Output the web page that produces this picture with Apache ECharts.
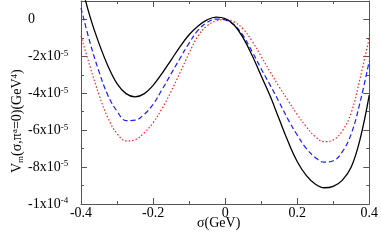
<!DOCTYPE html>
<html>
<head>
<meta charset="utf-8">
<script src="https://cdn.jsdelivr.net/npm/echarts@6/dist/echarts.min.js"></script>
<style>html,body{margin:0;padding:0;background:#fff}#c{width:381px;height:242px}</style>
</head>
<body>
<div id="c"></div>
<script>
// sigma grid (GeV) and potential values in units of 1e-6 GeV^4
var sigma  = [-0.400,-0.375,-0.350,-0.325,-0.300,-0.275,-0.250,-0.225,-0.200,-0.175,-0.150,-0.125,-0.100,-0.075,-0.050,-0.025,0.000,
              0.025,0.050,0.075,0.100,0.125,0.150,0.175,0.200,0.225,0.250,0.275,0.300,0.325,0.350,0.375,0.400];
var blackV = [20,1.5,-13,-25.3,-34.8,-40.2,-41.9,-40.3,-35.7,-29.2,-22,-14.7,-8.3,-3.5,-0.2,1.3,0.5,
              -3,-10,-19.5,-30.5,-41.5,-54,-66.3,-77,-84.5,-89.2,-91.2,-90.4,-87.2,-80,-64.5,-41];
var blueV  = [6.3,-12.5,-28.3,-41.3,-49.7,-54.8,-54.6,-51.5,-46,-38,-29.5,-21,-12.8,-5.8,-1.6,0.2,-0.3,
              -3,-8.8,-17.4,-26.7,-35.6,-44.8,-54.3,-62.6,-69.8,-74.8,-77.3,-76.6,-71.8,-62,-44.5,-22.5];
var redV   = [-9,-25.5,-40.8,-53.5,-61.8,-65.8,-65.2,-61.5,-56,-48.3,-39,-28.8,-18.2,-8.9,-3.4,-0.8,0,
              -1.3,-5.2,-11.8,-20,-28.5,-36.5,-44,-51.5,-58,-63.5,-66.2,-65.3,-60.5,-50.5,-31.5,-9.9];

var xTickValues = [-0.4,-0.2,0,0.2,0.4];
var xTickLabels = ['-0.4','-0.2','0','0.2','0.4'];
var yTickValues = [0,-20,-40,-60,-80,-100];
var yTickMant   = ['0','-2x10','-4x10','-6x10','-8x10','-1x10'];
var yTickExp    = ['','-5','-5','-5','-5','-4'];

function zip(xs, ys){ return xs.map(function(x,i){ return [x, ys[i]]; }); }

var FONT = 'Liberation Serif';
var AX = '#555';
var chart = echarts.init(document.getElementById('c'));

function xFmt(v){
  for (var i=0;i<xTickValues.length;i++) if (Math.abs(v-xTickValues[i])<1e-9) return xTickLabels[i];
  return '';
}
function yFmt(v){
  for (var i=0;i<yTickValues.length;i++) if (Math.abs(v-yTickValues[i])<1e-9) {
    return yTickExp[i] ? '{a|'+yTickMant[i]+'}{s|'+yTickExp[i]+'}' : '{a|'+yTickMant[i]+'}';
  }
  return '';
}

var baseX = {
  type:'value', min:-0.4, max:0.4, interval:0.2,
  axisLine:{show:true, onZero:false, lineStyle:{color:AX, width:1}},
  axisTick:{show:true, inside:true, length:6, lineStyle:{color:AX}},
  minorTick:{show:true, splitNumber:2, length:3, lineStyle:{color:AX}},
  splitLine:{show:false}
};
var baseY = {
  type:'value', min:-100, max:10, interval:20,
  axisLine:{show:true, onZero:false, lineStyle:{color:AX, width:1}},
  axisTick:{show:true, inside:true, length:6, lineStyle:{color:AX}},
  minorTick:{show:true, splitNumber:2, length:3, lineStyle:{color:AX}},
  splitLine:{show:false}
};

chart.setOption({
  animation:false,
  grid:{left:81, right:9, top:1, bottom:38},
  xAxis:[
    Object.assign({}, baseX, {position:'bottom',
      axisLabel:{show:true, margin:2, color:'#000', fontFamily:FONT, fontSize:14, formatter:xFmt}}),
    Object.assign({}, baseX, {position:'top', axisLabel:{show:false}})
  ],
  yAxis:[
    Object.assign({}, baseY, {position:'left',
      axisLabel:{show:true, margin:53, align:'left', color:'#000', formatter:yFmt,
        rich:{a:{fontFamily:FONT, fontSize:14, color:'#000'},
              s:{fontFamily:FONT, fontSize:9, color:'#000', verticalAlign:'top', padding:[0,0,6,0]}}}}),
    Object.assign({}, baseY, {position:'right', axisLabel:{show:false}})
  ],
  graphic:[
    {type:'text', left:197, top:216, style:{text:'σ(GeV)', fontFamily:FONT, fontSize:14, fill:'#000'}},
    {type:'text', x:10, y:173, rotation:Math.PI/2,
      style:{text:'{a|V}{b|m}{a|(σ,π}{c|a}{a|=0)(GeV}{c|4}{a|)}',
        rich:{a:{fontFamily:FONT, fontSize:14, color:'#000'},
              b:{fontFamily:FONT, fontSize:9, color:'#000', verticalAlign:'bottom', padding:[6,0,0,0]},
              c:{fontFamily:FONT, fontSize:9, color:'#000', verticalAlign:'top', padding:[0,0,6,0]}}}}
  ],
  series:[
    {type:'line', data:zip(sigma, redV), showSymbol:false, smooth:0.4, clip:true,
      lineStyle:{color:'#ff2020', width:1.2, type:[1.5,2]}},
    {type:'line', data:zip(sigma, blueV), showSymbol:false, smooth:0.4, clip:true,
      lineStyle:{color:'#1a1aff', width:1.2, type:[5,3]}},
    {type:'line', data:zip(sigma, blackV), showSymbol:false, smooth:0.4, clip:true,
      lineStyle:{color:'#000', width:1.3, type:'solid'}}
  ]
});
</script>
</body>
</html>
